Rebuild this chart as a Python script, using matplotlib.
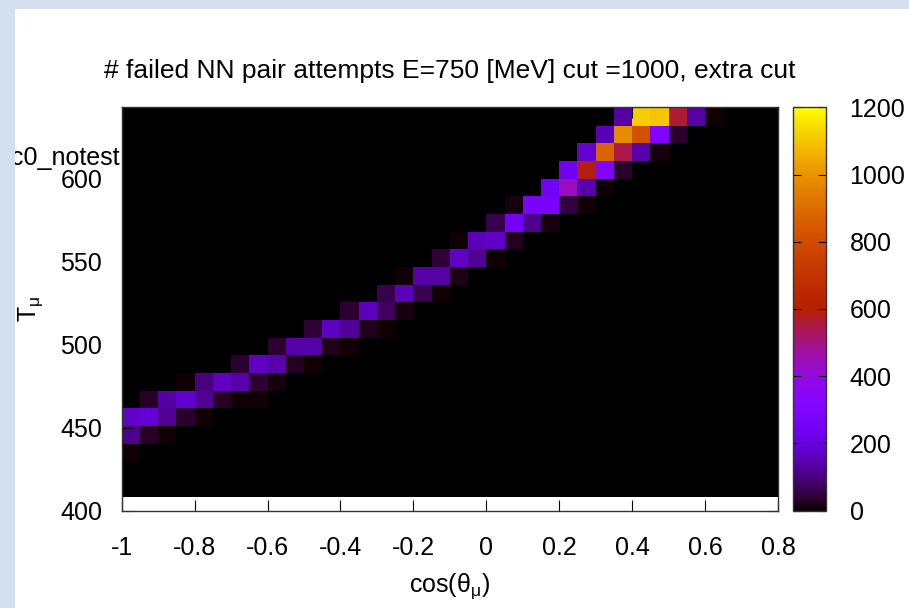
import matplotlib
matplotlib.use('Agg')
import matplotlib.pyplot as plt
import numpy as np
from matplotlib.patches import Rectangle

plt.rcParams['font.family'] = ['Liberation Sans', 'DejaVu Sans']
plt.rcParams['axes.unicode_minus'] = False
plt.rcParams['mathtext.default'] = 'regular'

title = '# failed NN pair attempts E=750 [MeV] cut =1000, extra cut'
key_text = 'c0_notest'

# histogram binning
cos_edges = np.linspace(-1, 0.8, 37)
t_edges = np.linspace(408.4, 642.6, 23)

# per T row (bottom to top): first cos bin with counts, then the counts
row_start = [0, 0, 0, 0, 0, 1, 3, 6, 8, 10, 12, 14, 15, 17, 18, 20, 21, 23, 24, 25, 26, 27]
row_counts = [
    [],
    [],
    [8],
    [108, 30, 8],
    [175, 190, 120, 35, 8],
    [30, 135, 180, 120, 30, 8, 8],
    [7, 100, 165, 145, 40, 12],
    [40, 165, 145, 28, 8],
    [40, 140, 140, 22, 7],
    [45, 165, 125, 22, 5, 3],
    [40, 160, 72, 12],
    [62, 155, 62, 8],
    [8, 140, 140, 18],
    [46, 170, 120, 8],
    [5, 155, 170, 28, 4],
    [62, 245, 112, 12],
    [10, 275, 275, 48, 5],
    [250, 440, 145, 8],
    [235, 590, 300, 35, 3],
    [185, 880, 540, 145, 10],
    [150, 975, 815, 300, 36],
    [135, 1115, 1100, 560, 140, 8],
]

x_ticks = [-1, -0.8, -0.6, -0.4, -0.2, 0, 0.2, 0.4, 0.6, 0.8]
x_labels = ['-1', '-0.8', '-0.6', '-0.4', '-0.2', '0', '0.2', '0.4', '0.6', '0.8']
y_ticks = [400, 450, 500, 550, 600]
cb_ticks = [0, 200, 400, 600, 800, 1000, 1200]

counts = np.zeros((len(t_edges) - 1, len(cos_edges) - 1))
for r, (s, vals) in enumerate(zip(row_start, row_counts)):
    counts[r, s:s + len(vals)] = vals

W, H = 909, 608
FS = 18
fig = plt.figure(figsize=(W / 100, H / 100), dpi=100, facecolor='#d5e0ee')
fig.patches.append(Rectangle((15 / W, 0), 1, 1 - 9 / H, transform=fig.transFigure,
                             facecolor='white', edgecolor='none', zorder=-1))

ax = fig.add_axes([121.7 / W, 1 - 510.7 / H, 656.3 / W, 403.4 / H])
ax.set_facecolor('white')
mesh = ax.pcolormesh(cos_edges, t_edges, counts, cmap='gnuplot', vmin=0, vmax=1200)
ax.set_xlim(-1, 0.8)
ax.set_ylim(400, 643)
ax.set_xticks(x_ticks, x_labels)
ax.set_yticks(y_ticks)
ax.tick_params(direction='in', length=8, width=0.8, color='black', top=True, right=True,
               labelsize=FS, pad=14)
ax.tick_params(axis='x', pad=18)
for sp in ax.spines.values():
    sp.set_color('#333333')
    sp.set_linewidth(1)

ax.set_title(title, fontsize=19, pad=21)
ax.set_xlabel('cos($θ_μ$)', fontsize=FS, labelpad=8)
ax.set_ylabel('$T_μ$', fontsize=FS, labelpad=11)

fig.text(119 / W, 1 - 158 / H, key_text, fontsize=FS, ha='right', va='center')
# slide border hides the start of the key text
fig.patches.append(Rectangle((0, 0), 15 / W, 1, transform=fig.transFigure,
                             facecolor='#d5e0ee', edgecolor='none', zorder=10))

cax = fig.add_axes([792.7 / W, 1 - 510.7 / H, 33.3 / W, 403.4 / H])
cb = fig.colorbar(mesh, cax=cax, ticks=cb_ticks)
cb.outline.set_edgecolor('#333333')
cb.outline.set_linewidth(1)
cax.tick_params(direction='in', length=5.5, width=0.8, color='black', left=True, right=True,
                labelsize=FS, pad=17)

fig.savefig('out.png', dpi=100, facecolor=fig.get_facecolor())
